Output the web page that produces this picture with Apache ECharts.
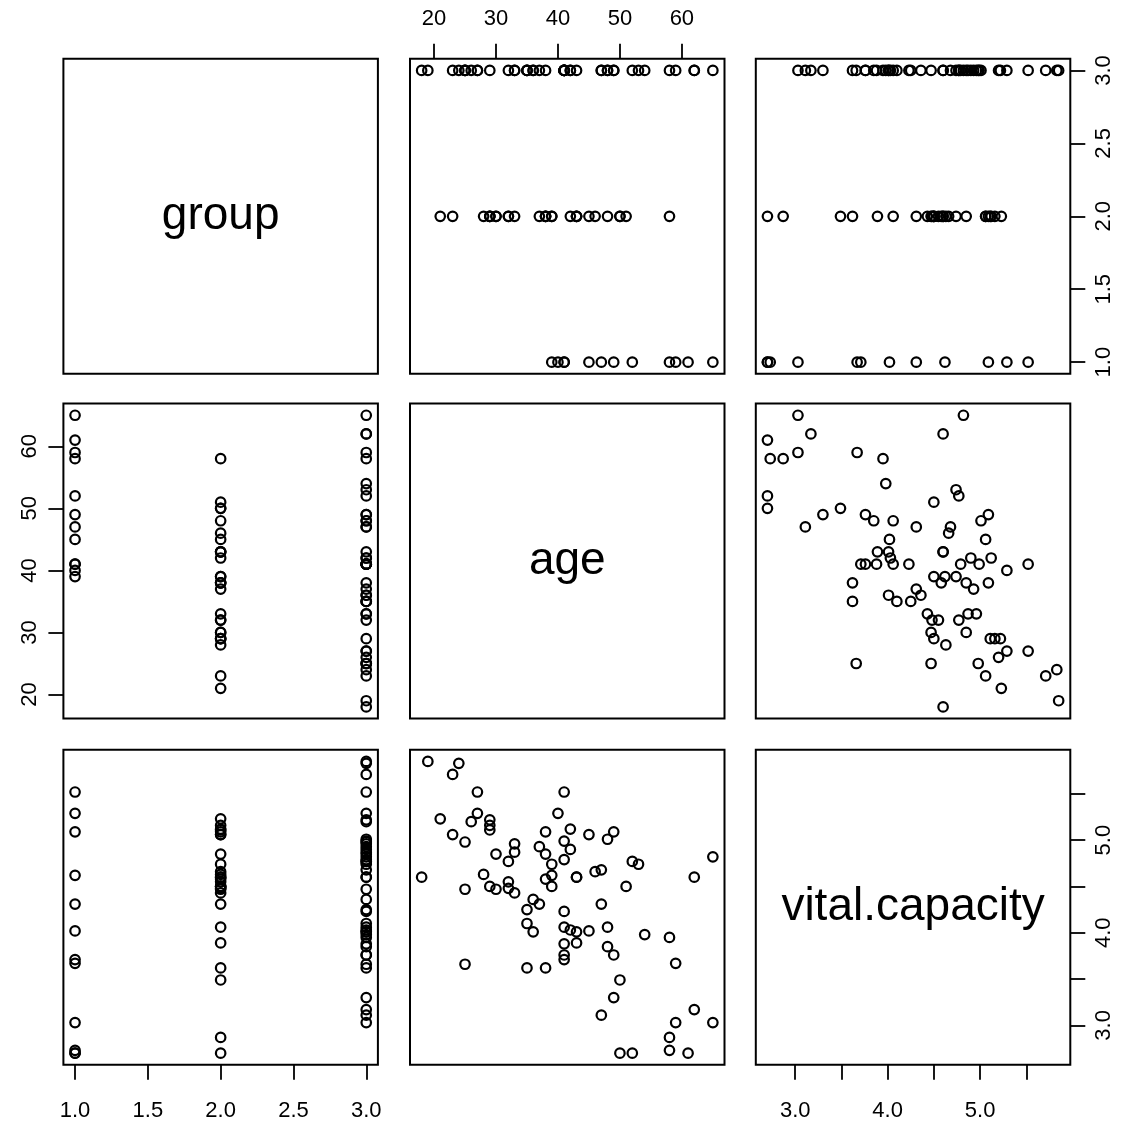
<!DOCTYPE html>
<html><head><meta charset="utf-8">
<script src="https://cdn.jsdelivr.net/npm/echarts@6/dist/echarts.min.js"></script>
<style>html,body{margin:0;padding:0;background:#fff}#c{width:1138px;height:1132px}</style>
</head><body><div id="c"></div>
<script>
// ---- data (vitcap2: group, age, vital.capacity) ----
const varNames = ['group', 'age', 'vital.capacity'];
const group = [
  1,1,1,1,1,1,1,1,1,1,1,1,
  2,2,2,2,2,2,2,2,2,2,2,2,2,2,2,2,2,2,2,2,2,2,2,2,2,2,2,2,
  3,3,3,3,3,3,3,3,3,3,3,3,3,3,3,3,3,3,3,3,3,3,3,3,3,3,3,3,3,3,3,3,3,3,3,3,3,3,3,3,3,3,3,3
];
const age = [
  39,40,41,41,45,49,52,47,61,65,58,59,
  58,50,51,50,48,46,45,43,43,43,42,39,38,39,38,38,37,33,32,32,30,29,30,28,29,29,23,21,
  65,62,62,59,58,54,53,52,49,47,49,48,47,48,43,42,42,41,41,41,41,41,41,38,37,35,36,35,35,36,32,33,33,29,27,27,26,25,25,25,23,24,19,18
];
const vitalCapacity = [
  4.62,5.29,5.52,3.71,4.02,5.09,2.70,4.31,2.70,3.03,2.73,3.67,
  2.87,2.70,4.50,3.49,4.06,4.66,5.06,3.89,4.60,4.60,5.12,4.50,4.58,4.74,5.09,3.62,4.31,4.43,4.48,4.55,4.47,4.50,4.85,4.63,5.11,5.16,5.06,5.23,
  4.82,3.17,4.60,3.03,3.95,3.98,4.74,4.77,3.30,3.11,3.76,3.85,4.68,5.01,4.01,4.03,4.90,3.76,3.88,4.06,4.23,4.79,4.99,4.85,4.93,3.62,4.01,4.10,4.25,4.36,4.77,4.87,4.96,5.22,5.29,5.52,5.20,3.66,4.47,4.98,5.71,5.83,5.85,4.60
];
const groupTicks = [1.0, 1.5, 2.0, 2.5, 3.0];
const ageTicks = [20, 30, 40, 50, 60];
const vcTicks = [3.0, 3.5, 4.0, 4.5, 5.0, 5.5];
const vcLabels = [3.0, 4.0, 5.0];

// ---- layout ----
const panelLeft = [63.4, 410.0, 755.8];
const panelTop = [58.8, 403.6, 749.8];
const panelW = 314.5, panelH = 315;
const FONT = 'Liberation Sans';

const vars = [group, age, vitalCapacity];
const ranges = vars.map(v => {
  const lo = Math.min(...v), hi = Math.max(...v), p = (hi - lo) * 0.04;
  return [lo - p, hi + p];
});
const fmt1 = v => Number(v).toFixed(1);
const fmt0 = v => String(v);

const axisSpecs = {
  '0,1': { x: { pos: 'top', ticks: ageTicks, labels: ageTicks, fmt: fmt0, margin: 29 } },
  '0,2': { y: { pos: 'right', ticks: groupTicks, labels: groupTicks, fmt: fmt1, margin: 23, rot: 90 } },
  '1,0': { y: { pos: 'left', ticks: ageTicks, labels: ageTicks, fmt: fmt0, margin: 22, rot: 90 } },
  '2,0': { x: { pos: 'bottom', ticks: groupTicks, labels: groupTicks, fmt: fmt1, margin: 35 } },
  '2,2': { x: { pos: 'bottom', ticks: vcTicks, labels: vcLabels, fmt: fmt1, margin: 35 },
           y: { pos: 'right', ticks: vcTicks, labels: vcLabels, fmt: fmt1, margin: 23, rot: 90 } }
};

function mkAxis(gridIndex, vi, spec, defPos) {
  const a = {
    type: 'value', gridIndex, min: ranges[vi][0], max: ranges[vi][1],
    position: defPos,
    splitLine: { show: false }, axisLine: { show: false },
    axisTick: { show: false }, axisLabel: { show: false }
  };
  if (spec) {
    a.position = spec.pos;
    a.axisTick = { show: true, inside: false, length: 15,
      lineStyle: { color: '#000', width: 1.8 }, customValues: spec.ticks };
    a.axisLabel = { show: true, customValues: spec.labels, formatter: spec.fmt,
      color: '#000', fontSize: 22, fontFamily: FONT, margin: spec.margin, rotate: spec.rot || 0 };
  }
  return a;
}

const grids = [], xAxes = [], yAxes = [], series = [], graphics = [];
for (let r = 0; r < 3; r++) {
  for (let c = 0; c < 3; c++) {
    const gi = grids.length;
    grids.push({ left: panelLeft[c], top: panelTop[r], width: panelW, height: panelH,
      show: true, borderColor: '#000', borderWidth: 2, backgroundColor: 'transparent',
      containLabel: false, outerBoundsMode: 'none' });
    const spec = axisSpecs[r + ',' + c] || {};
    xAxes.push(mkAxis(gi, c, spec.x, 'bottom'));
    yAxes.push(mkAxis(gi, r, spec.y, 'left'));
    if (r !== c) {
      series.push({
        type: 'scatter', xAxisIndex: gi, yAxisIndex: gi,
        data: vars[c].map((v, i) => [v, vars[r][i]]),
        symbol: 'circle', symbolSize: 9.5,
        itemStyle: { color: 'rgba(0,0,0,0)', borderColor: '#000', borderWidth: 2.2, opacity: 1 },
        emphasis: { disabled: true }, silent: true
      });
    } else {
      graphics.push({
        type: 'text', x: panelLeft[c] + panelW / 2, y: panelTop[r] + panelH / 2,
        style: { text: varNames[r], fill: '#000', font: '46px "' + FONT + '"',
          textAlign: 'center', textVerticalAlign: 'middle' }
      });
    }
  }
}

const chart = echarts.init(document.getElementById('c'), null, { renderer: 'canvas' });
chart.setOption({
  animation: false,
  backgroundColor: '#fff',
  grid: grids, xAxis: xAxes, yAxis: yAxes, series: series, graphic: graphics
});
</script>
</body></html>
